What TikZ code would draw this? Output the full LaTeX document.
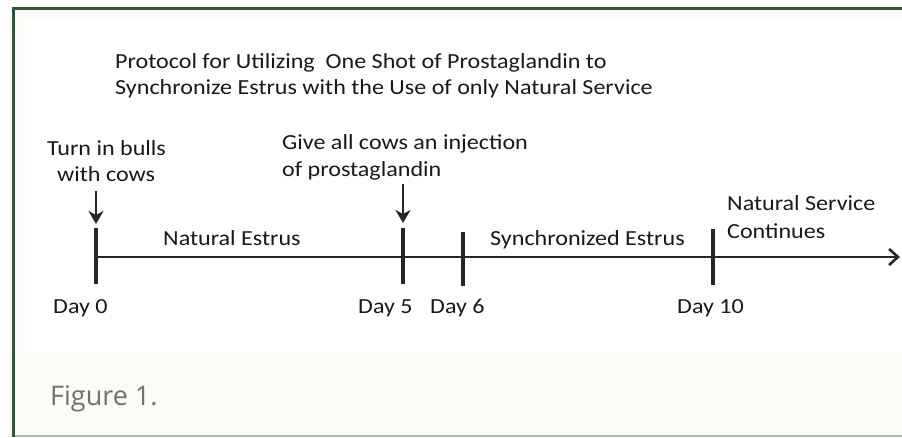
\documentclass[tikz,border=0pt]{standalone}
\usepackage{fontspec}
\setmainfont{Carlito}[FakeStretch=1.12]
\newfontfamily\figfont{Open Sans}
\usetikzlibrary{arrows.meta}
\definecolor{frameg}{HTML}{2A5A36}
\definecolor{framel}{HTML}{A9BDAA}
\definecolor{cream}{HTML}{FCFBF7}
\definecolor{figgray}{HTML}{707070}
\tikzset{
  lbl/.style={inner sep=0pt, anchor=base west, font=\fontsize{21.5}{25}\selectfont, text=black!90},
  tick/.style={line width=3.3pt, black!85},
  axis/.style={line width=2.8pt, black!85, -{Straight Barb[length=9pt,width=16pt,line width=2.6pt]}},
  down/.style={line width=2.4pt, black!85, -{Stealth[length=13pt,width=15pt,inset=4pt]}},
}
\begin{document}
\begin{tikzpicture}[x=1pt,y=-1pt]
\useasboundingbox (0,0) rectangle (902,437);
% frame
\fill[white] (0,0) rectangle (902,437);
\fill[cream] (12,8) rectangle (902,437);
\fill[white] (25,20) rectangle (902,352);
\draw[framel, line width=1.5pt] (12,436) -- (902,436);
\draw[frameg, line width=3pt] (13.5,7) -- (13.5,437);
\draw[frameg, line width=3pt] (12,8.5) -- (902,8.5);
% title
\node[lbl] (t1) at (115,68) {Protocol for Utilizing\ \ One Shot of Prostaglandin to};
\node[lbl] (t2) at (115,94) {Synchronize Estrus with the Use of only Natural Service};
% ticks
\coordinate (d0t) at (96,228); \coordinate (d0b) at (96,284);
\coordinate (d5t) at (403,228); \coordinate (d5b) at (403,284);
\coordinate (d6t) at (463,232); \coordinate (d6b) at (463,286);
\coordinate (d10t) at (713,229); \coordinate (d10b) at (713,285);
\coordinate (ax0) at (96,257); \coordinate (ax1) at (900,257);
\draw[axis] (ax0) -- (ax1);
\draw[tick] (d0t) -- (d0b);
\draw[tick] (d5t) -- (d5b);
\draw[tick] (d6t) -- (d6b);
\draw[tick] (d10t) -- (d10b);
% down arrows
\coordinate (a0s) at (96,191); \coordinate (a0e) at (96,224);
\coordinate (a5s) at (403,184); \coordinate (a5e) at (403,223);
\draw[down] (a0s) -- (a0e);
\draw[down] (a5s) -- (a5e);
% labels
\node[lbl] (b1) at (47,155) {Turn in bulls};
\node[lbl] (b2) at (57,181) {with cows};
\node[lbl] (g1) at (282,149) {Give all cows an injection};
\node[lbl] (g2) at (282,176) {of prostaglandin};
\node[lbl] (ne) at (163,245) {Natural Estrus};
\node[lbl] (se) at (490,245) {Synchronized Estrus};
\node[lbl] (ns1) at (727,210) {Natural Service};
\node[lbl] (ns2) at (727,238) {Continues};
\node[lbl] (day0) at (53,313) {Day 0};
\node[lbl] (day5) at (358,313) {Day 5};
\node[lbl] (day6) at (430,313) {Day 6};
\node[lbl] (day10) at (677,313) {Day 10};
\node[inner sep=0pt, anchor=base west, font=\figfont\fontsize{27}{32}\selectfont, text=figgray] (fig) at (50,405) {Figure 1.};
\end{tikzpicture}
\end{document}
